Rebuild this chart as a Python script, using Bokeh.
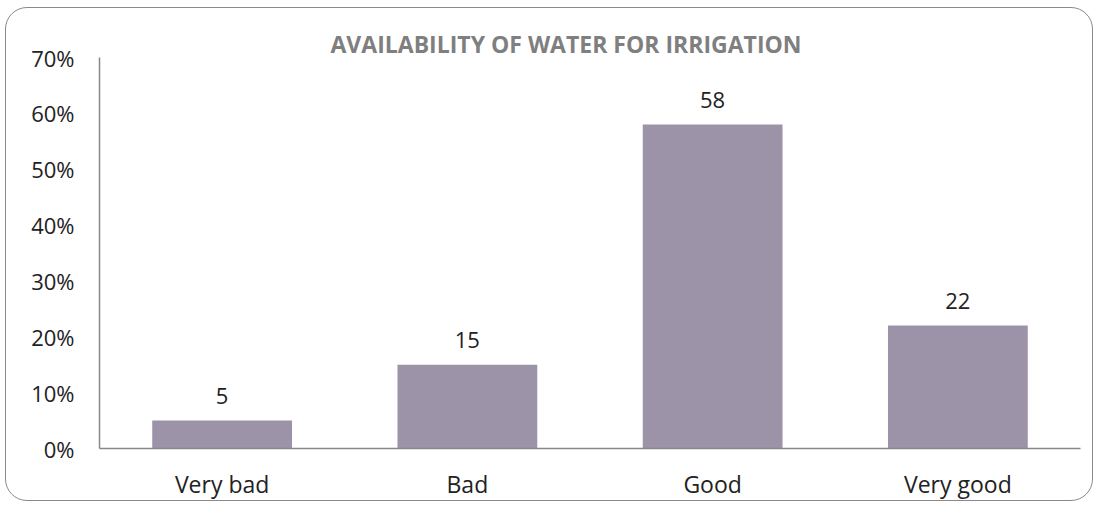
from bokeh.plotting import figure
from bokeh.models import ColumnDataSource, FixedTicker, LabelSet
from bokeh.core.properties import value
from bokeh.embed import file_html
from bokeh.resources import INLINE

categories = ["Very bad", "Bad", "Good", "Very good"]
values = [5, 15, 58, 22]
y_ticks = [0, 10, 20, 30, 40, 50, 60, 70]
y_tick_labels = ["0%", "10%", "20%", "30%", "40%", "50%", "60%", "70%"]
title_text = "AVAILABILITY OF WATER FOR IRRIGATION"

FONT = "Open Sans"
src = ColumnDataSource(dict(cat=categories, val=values, lab=[str(v) for v in values]))

p = figure(x_range=categories, y_range=(0, 70), width=1088, height=494,
           output_backend="svg", toolbar_location=None,
           min_border_left=93, min_border_right=14, min_border_top=49, min_border_bottom=41)
p.styles = {"border": "1.5px solid #8a8a8a", "border-radius": "22px",
            "margin-left": "5px", "margin-top": "7px"}
p.outline_line_color = None
p.grid.grid_line_color = None
p.background_fill_color = "white"
p.border_fill_color = None

p.title.text = title_text
p.title.align = "left"
p.title.offset = 231
p.title.standoff = -4
p.title.text_font = FONT
p.title.text_font_style = "bold"
p.title.text_font_size = "23px"
p.title.text_color = "#7F7F7F"

p.vbar(x="cat", top="val", width=0.57, source=src, fill_color="#9D93A9", line_color=None)

labels = LabelSet(x="cat", y="val", text="lab", source=src, text_align="center",
                  text_baseline="bottom", y_offset=17, text_font=value(FONT),
                  text_font_size=value("22px"), text_color="#222222")
p.add_layout(labels)

for ax in (p.xaxis, p.yaxis):
    ax.axis_line_color = "#888888"
    ax.axis_line_width = 1.5
    ax.major_tick_line_color = None
    ax.minor_tick_line_color = None
    ax.major_label_text_font = FONT
    ax.major_label_text_font_size = "22px"
    ax.major_label_text_color = "#222222"

p.xaxis.major_label_text_font_size = "23px"
p.yaxis.ticker = FixedTicker(ticks=y_ticks)
p.yaxis.major_label_overrides = {t: l for t, l in zip(y_ticks, y_tick_labels)}
p.yaxis.major_label_standoff = 19
p.xaxis.major_label_standoff = 13

open("out.html", "w").write(file_html(p, INLINE))
